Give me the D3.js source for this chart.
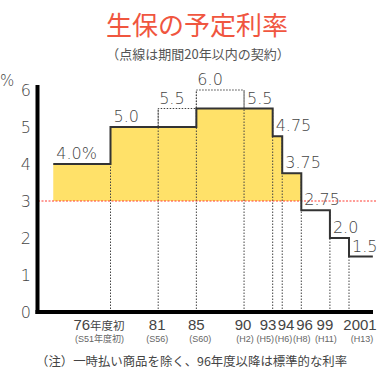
<!DOCTYPE html>
<html><head><meta charset="utf-8">
<script src="https://cdn.jsdelivr.net/npm/d3@7"></script>
<style>
html,body{margin:0;padding:0;background:#fff;}
svg{display:block;}
</style></head>
<body>
<svg id="chart" width="380" height="381"></svg>
<script>
// ---- data ----
const periodStarts = [1970, 1976, 1981, 1985, 1990, 1993, 1994, 1996, 1999, 2001];
const periodEnd = 2003.5;
const standardRate = [4.0, 5.0, 5.0, 5.5, 5.5, 4.75, 3.75, 2.75, 2.0, 1.5];
const standardLabels = ["4.0%", "5.0", "", "", "5.5", "4.75", "3.75", "2.75", "2.0", "1.5"];
const shortTermRate = [null, null, 5.5, 6.0, null, null, null, null, null, null]; // 期間20年以内 (点線)
const shortTermLabels = ["", "", "5.5", "6.0", "", "", "", "", "", ""];
const thresholdRate = 3;
const tickYears = [1976, 1981, 1985, 1990, 1993, 1994, 1996, 1999, 2001];
const tickMain = ["76", "81", "85", "90", "93", "94", "96", "99", "2001"];
const tickMainSuffix = ["年度初", "", "", "", "", "", "", "", ""];
const tickSub = ["(S51年度初)", "(S56)", "(S60)", "(H2)", "(H5)", "(H6)", "(H8)", "(H11)", "(H13)"];
const yTicks = [0, 1, 2, 3, 4, 5, 6];
// label spreading (layout) for crowded x labels
const mainShift = [-11.5, -1, 0, -1, -4.7, 3.8, 3.2, -5, 11];
const subShift = [-11, -1, 4, 1, -7.5, 1.3, 0.5, -4, 13];

const title = "生保の予定利率";
const subtitle = "（点線は期間20年以内の契約）";
const note = "（注）一時払い商品を除く、96年度以降は標準的な利率";

// ---- drawing ----
const svg = d3.select("#chart");
const cjk = "'Noto Sans CJK JP', sans-serif";
const num = "'DejaVu Sans', sans-serif";
const lab = "'Liberation Sans', 'Noto Sans CJK JP', sans-serif";
const ink = "#444";

const x = d3.scaleLinear().domain([1976, 2001]).range([110.5, 349]);
const y = d3.scaleLinear().domain([0, 6]).range([312, 90]);

// title
svg.append("text").attr("x", 197).attr("y", 35).attr("text-anchor", "middle")
  .attr("font-family", cjk).attr("font-size", 26).attr("fill", "#F0563F").text(title);
svg.append("text").attr("x", 198).attr("y", 59).attr("text-anchor", "middle")
  .attr("font-family", cjk).attr("font-size", 13).attr("fill", "#555").text(subtitle);

const pts = periodStarts.map((s, i) => ({start: s, end: i < periodStarts.length - 1 ? periodStarts[i+1] : periodEnd,
  rate: standardRate[i], label: standardLabels[i], short: shortTermRate[i], shortLabel: shortTermLabels[i]}));

// yellow fill above threshold
const fillPts = [];
pts.forEach(p => { if (p.rate > thresholdRate) { fillPts.push({yr: p.start, r: p.rate}); } });
const lastFill = pts.filter(p => p.rate > thresholdRate).slice(-1)[0];
fillPts.push({yr: lastFill.end, r: lastFill.rate});
svg.append("path").datum(fillPts)
  .attr("d", d3.area().curve(d3.curveStepAfter).x(d => x(d.yr)).y0(y(thresholdRate)).y1(d => y(d.r)))
  .attr("fill", "#FFE169");

// vertical dotted lines at each period boundary
const dotted = "#444";
pts.forEach((p, i) => {
  if (i === 0) return;
  const q = pts[i-1];
  const top = d3.max([p.rate, q.rate, p.short, q.short].filter(v => v != null));
  svg.append("line").attr("x1", x(p.start)).attr("x2", x(p.start))
    .attr("y1", y(0)).attr("y2", y(top))
    .attr("stroke", dotted).attr("stroke-width", 1).attr("stroke-dasharray", "1.5,1.5");
});

// short-term dotted steps
const shortPath = [];
pts.forEach((p, i) => {
  if (p.short == null) return;
  const prevHas = i > 0 && pts[i-1].short != null;
  if (!prevHas) shortPath.push([x(p.start), y(p.rate)]);
  shortPath.push([x(p.start), y(p.short)]);
  shortPath.push([x(p.end), y(p.short)]);
  const nextHas = i < pts.length - 1 && pts[i+1].short != null;
  if (!nextHas) shortPath.push([x(p.end), y(pts[i+1].rate)]);
});
svg.append("path").attr("d", d3.line()(shortPath)).attr("fill", "none")
  .attr("stroke", dotted).attr("stroke-width", 1).attr("stroke-dasharray", "1.5,1.5");

// red threshold line
svg.append("line").attr("x1", 38).attr("x2", 376).attr("y1", y(thresholdRate)).attr("y2", y(thresholdRate))
  .attr("stroke", "#FF3B30").attr("stroke-width", 1).attr("stroke-dasharray", "2,1.5");

// step line
const stepData = pts.map(p => ({yr: p.start, r: p.rate}));
stepData.push({yr: periodEnd, r: standardRate[standardRate.length - 1]});
svg.append("path").datum(stepData)
  .attr("d", d3.line().curve(d3.curveStepAfter).x(d => x(d.yr)).y(d => y(d.r)))
  .attr("fill", "none").attr("stroke", "#333").attr("stroke-width", 2);

// value labels
pts.forEach(p => {
  if (p.label) svg.append("text").attr("x", x(p.start) + 3).attr("y", y(p.rate) - 5)
    .attr("font-family", num).attr("font-weight", 200).attr("font-size", 16).attr("fill", ink).text(p.label);
  if (p.shortLabel) svg.append("text").attr("x", x(p.start) + 1).attr("y", y(p.short) - 5)
    .attr("font-family", num).attr("font-weight", 200).attr("font-size", 16).attr("fill", ink).text(p.shortLabel);
});

// axes
svg.append("line").attr("x1", 37.5).attr("x2", 37.5).attr("y1", 85).attr("y2", 314)
  .attr("stroke", "#000").attr("stroke-width", 4);
svg.append("line").attr("x1", 35.5).attr("x2", 373).attr("y1", y(0)).attr("y2", y(0))
  .attr("stroke", "#000").attr("stroke-width", 4);

const yAxis = svg.append("g").attr("transform", "translate(31,0)")
  .call(d3.axisLeft(y).tickValues(yTicks).tickSize(0).tickPadding(0).tickFormat(d3.format("d")));
yAxis.select(".domain").remove();
yAxis.selectAll("text").attr("font-family", num).attr("font-weight", 200).attr("font-size", 16).attr("fill", ink);

svg.append("text").attr("x", 0).attr("y", 86).attr("font-family", num).attr("font-weight", 200)
  .attr("font-size", 15).attr("fill", ink).text("%");

// x tick labels
tickYears.forEach((yr, i) => {
  const t = svg.append("text").attr("x", x(yr) + mainShift[i]).attr("y", 330).attr("text-anchor", "middle")
    .attr("font-family", lab).attr("font-size", 15).attr("fill", ink);
  t.append("tspan").text(tickMain[i]);
  if (tickMainSuffix[i]) t.append("tspan").attr("font-size", 11.5).text(tickMainSuffix[i]);
  svg.append("text").attr("x", x(yr) + subShift[i]).attr("y", 341.5).attr("text-anchor", "middle")
    .attr("font-family", lab).attr("font-size", 9).attr("fill", "#666").text(tickSub[i]);
});

// note
svg.append("text").attr("x", 36).attr("y", 366).attr("font-family", cjk).attr("font-size", 12.4)
  .attr("fill", ink).text(note);
</script>
</body></html>
